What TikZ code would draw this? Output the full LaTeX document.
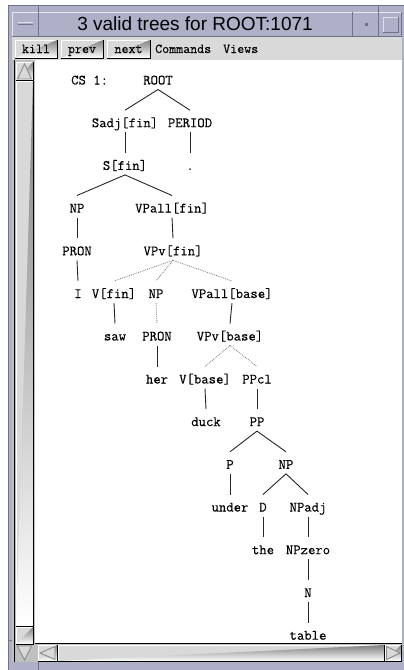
\documentclass[tikz,border=0pt]{standalone}
\usepackage{fontspec}
\newfontfamily\titlefont{Liberation Sans}
\newfontfamily\treefont[FakeBold=0.25]{Latin Modern Mono}
\definecolor{frameLav}{RGB}{174,176,200}
\definecolor{frameDark}{RGB}{112,114,138}
\definecolor{panel}{RGB}{217,217,217}
\definecolor{shade}{RGB}{138,138,138}
\definecolor{trough}{RGB}{192,192,192}
\usetikzlibrary{calc}
% raised 3D box: light top/left edge, dark bottom/right edge
\newcommand{\winbevel}[4]{%
  \fill[panel] (#1,#2) rectangle (#3,#4);
  \draw[white, line width=1pt] (#1,#4) -- (#1,#2) -- (#3,#2);
  \draw[shade, line width=1pt] (#1,#4) -- (#3,#4) -- (#3,#2);
}
\tikzset{
  t/.style={font=\treefont\fontsize{14.3}{16}\selectfont, inner sep=0pt, anchor=base},
  menu/.style={font=\treefont\fontsize{13.6}{15}\selectfont, inner sep=0pt, anchor=base},
  edge/.style={line width=0.9pt, black!85},
  dotedge/.style={line width=0.8pt, black!55, dash pattern=on 0.8pt off 1.1pt},
  arrowtri/.style={draw=shade, fill=panel, line width=0.9pt},
}
\begin{document}
\begin{tikzpicture}[x=1pt, y=-1pt]
\useasboundingbox (0,0) rectangle (404,670);
\fill[white] (0,0) rectangle (404,670);

% window frame
\fill[frameLav] (8,5) rectangle (404,670);
\draw[frameDark, line width=0.8pt] (8.4,670) -- (8.4,5.4) -- (404,5.4);
\draw[frameDark, line width=0.8pt] (38,5) -- (38,12);
\draw[frameDark, line width=0.8pt] (378,5) -- (378,12);
\draw[frameDark, line width=0.8pt] (38,662) -- (38,670);
\draw[frameDark, line width=0.8pt] (8,640) -- (12,640);

% title bar
\fill[frameLav] (12,12) rectangle (401,36);
\draw[frameDark, line width=0.8pt] (12,36) -- (401,36) -- (401,12);
\draw[white!70!frameLav, line width=0.8pt] (12,36) -- (12,12) -- (401,12);
\draw[frameDark, line width=0.8pt] (38,12) -- (38,36);
\draw[frameDark, line width=0.8pt] (352,12) -- (352,36);
\draw[frameDark, line width=0.8pt] (378,12) -- (378,36);
\draw[frameDark, line width=1pt] (18,24) -- (33,24);
\draw[white!60!frameLav, line width=0.8pt] (18,22.6) -- (33,22.6);
\fill[frameDark] (364.5,22.5) rectangle (367.5,25.5);
\draw[white!60!frameLav, line width=0.8pt] (383,32) -- (383,17) -- (398,17);
\draw[frameDark, line width=0.8pt] (383,32) -- (398,32) -- (398,17);
\node[font=\titlefont\fontsize{19}{22}\selectfont, inner sep=0pt] (title) at (195,24) {3 valid trees for ROOT:1071};

% menu bar
\fill[panel] (12,37) rectangle (402,60);
\winbevel{15}{40}{57}{58}
\winbevel{61}{40}{103}{58}
\winbevel{107}{40}{150}{58}
\node[menu] (kill) at (36,53) {kill};
\node[menu] (prev) at (82,53) {prev};
\node[menu] (next) at (128.5,53) {next};
\node[menu, anchor=base west] (commands) at (155,53) {Commands};
\node[menu, anchor=base west] (views) at (223,53) {Views};

% drawing area
\fill[white] (35,60) rectangle (402,643);

% vertical scroll bar
\fill[trough] (12,60) rectangle (35,662);
\draw[shade, line width=0.8pt] (14,60) -- (14,662);
\winbevel{16}{81}{33}{626}
\winbevel{16}{62}{33}{80}
\winbevel{16}{627}{33}{644}
\draw[arrowtri] (17.5,79) -- (24.5,64) -- (31.5,79) -- cycle;
\draw[arrowtri] (17.5,646) -- (24.5,660) -- (31.5,646) -- cycle;

% horizontal scroll bar
\fill[trough] (35,643) rectangle (402,662);
\draw[shade, line width=0.8pt] (35,643.5) -- (402,643.5);
\winbevel{38}{645}{57}{661}
\winbevel{58}{645}{384}{661}
\winbevel{385}{645}{401}{661}
\draw[arrowtri] (55,646.5) -- (40,653) -- (55,659.5) -- cycle;
\draw[arrowtri] (386.5,646.5) -- (400,653) -- (386.5,659.5) -- cycle;

% parse tree
\node[t, anchor=base west] (cs) at (71,84.5) {CS 1:};
\node[t] (root) at (158,84.5) {ROOT};
\node[t] (sadj) at (125,127.2) {Sadj[fin]};
\node[t] (period) at (190,127.2) {PERIOD};
\node[t] (sfin) at (125,169.9) {S[fin]};
\node[t] (stop) at (190,169.9) {.};
\node[t] (npa) at (77,212.5) {NP};
\node[t] (vpallfin) at (172,212.5) {VPall[fin]};
\node[t] (prona) at (77,255.3) {PRON};
\node[t] (vpvfin) at (173,255.3) {VPv[fin]};
\node[t] (wi) at (78,298) {I};
\node[t] (vfin) at (114,298) {V[fin]};
\node[t] (npb) at (156,298) {NP};
\node[t] (vpallbase) at (232,298) {VPall[base]};
\node[t] (wsaw) at (115,340.5) {saw};
\node[t] (pronb) at (157,340.5) {PRON};
\node[t] (vpvbase) at (230,340.5) {VPv[base]};
\node[t] (wher) at (157,383.5) {her};
\node[t] (vbase) at (205,383.5) {V[base]};
\node[t] (ppcl) at (257,383.5) {PPcl};
\node[t] (wduck) at (206,426.1) {duck};
\node[t] (pp) at (257,426.1) {PP};
\node[t] (prep) at (230,468.8) {P};
\node[t] (npc) at (286,468.8) {NP};
\node[t] (wunder) at (230,511.5) {under};
\node[t] (det) at (263,511.5) {D};
\node[t] (npadj) at (308,511.5) {NPadj};
\node[t] (wthe) at (263,554.2) {the};
\node[t] (npzero) at (308,554.2) {NPzero};
\node[t] (noun) at (308,597) {N};
\node[t] (wtable) at (308,639.7) {table};

\foreach \a/\b in {root/sadj, root/period, sadj/sfin, period/stop,
                   sfin/npa, sfin/vpallfin, npa/prona, vpallfin/vpvfin,
                   prona/wi, vfin/wsaw, vpallbase/vpvbase, pronb/wher,
                   vbase/wduck, ppcl/pp, pp/prep, pp/npc, prep/wunder,
                   npc/det, npc/npadj, det/wthe, npadj/npzero,
                   npzero/noun, noun/wtable}
  \draw[edge] ([yshift=-5pt]\a.base) -- ([yshift=17pt]\b.base);
\foreach \a/\b in {vpvfin/vfin, vpvfin/npb, vpvfin/vpallbase, npb/pronb,
                   vpvbase/vbase, vpvbase/ppcl}
  \draw[dotedge] ([yshift=-5pt]\a.base) -- ([yshift=17pt]\b.base);
\end{tikzpicture}
\end{document}
